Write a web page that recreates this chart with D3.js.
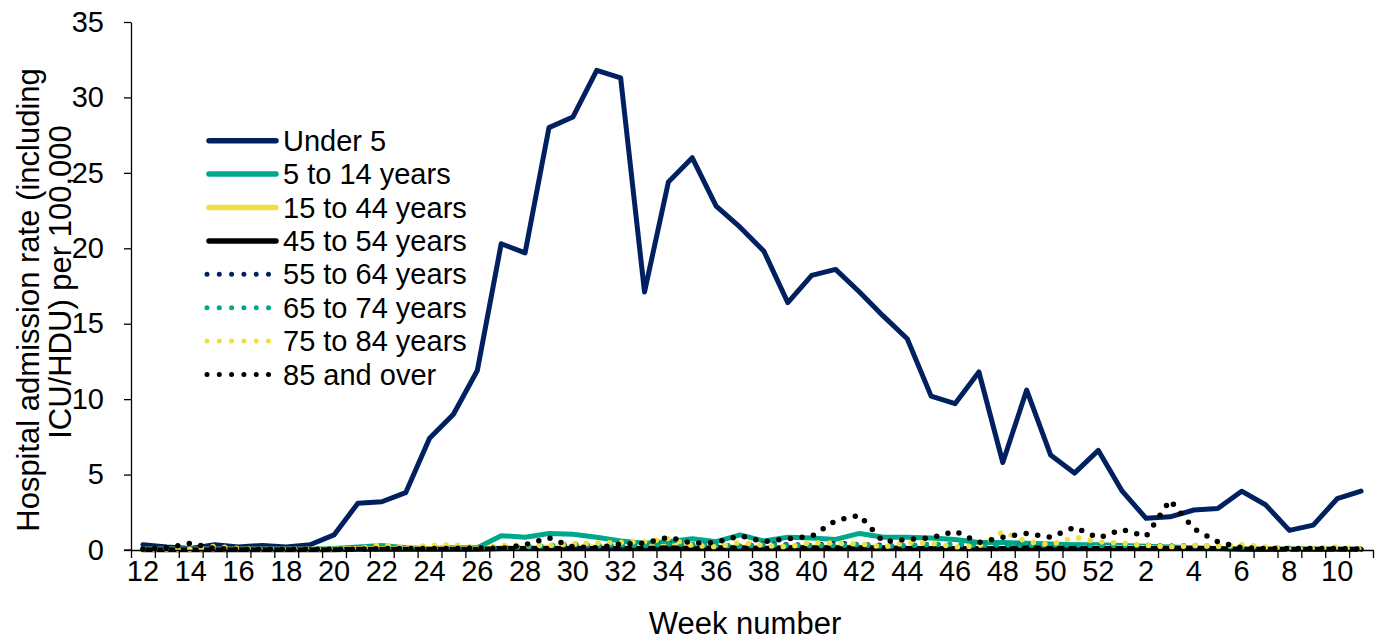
<!DOCTYPE html>
<html>
<head>
<meta charset="utf-8">
<script src="https://cdn.jsdelivr.net/npm/d3@7"></script>
<style>
  html, body { margin: 0; padding: 0; background: #fff; }
  svg { display: block; }
  text { font-family: "Liberation Sans", Arial, sans-serif; fill: #000; }
</style>
</head>
<body>
<svg id="chart" width="1378" height="642"></svg>
<script>
// ---- Data ----
const weeks = [12,13,14,15,16,17,18,19,20,21,22,23,24,25,26,27,28,29,30,31,32,33,34,35,36,37,38,39,40,41,42,43,44,45,46,47,48,49,50,51,52,1,2,3,4,5,6,7,8,9,10,11];

const seriesNames = ["Under 5","5 to 14 years","15 to 44 years","45 to 54 years","55 to 64 years","65 to 74 years","75 to 84 years","85 and over"];

const under5 = [0.35,0.2,0.1,0.35,0.2,0.3,0.2,0.35,1.0,3.1,3.2,3.8,7.4,9.0,11.9,20.3,19.7,28.0,28.7,31.8,31.3,17.1,24.4,26.0,22.8,21.4,19.8,16.4,18.2,18.6,17.1,15.5,14.0,10.2,9.7,11.8,5.8,10.6,6.3,5.1,6.6,3.9,2.1,2.2,2.65,2.75,3.9,3.0,1.3,1.65,3.4,3.9];
const age5to14 = [0.05,0.05,0.05,0.05,0.05,0.05,0.05,0.05,0.1,0.2,0.3,0.15,0.1,0.15,0.15,0.95,0.85,1.1,1.05,0.85,0.6,0.45,0.55,0.75,0.55,1.0,0.6,0.85,0.8,0.7,1.1,0.85,0.85,0.8,0.7,0.5,0.5,0.45,0.4,0.35,0.35,0.3,0.25,0.2,0.15,0.1,0.1,0.05,0.05,0.05,0.05,0.05];
const age15to44 = [0.05,0.05,0.05,0.05,0.05,0.05,0.05,0.05,0.05,0.1,0.1,0.1,0.1,0.1,0.1,0.15,0.15,0.2,0.2,0.2,0.2,0.2,0.25,0.2,0.2,0.2,0.15,0.2,0.2,0.2,0.2,0.15,0.15,0.1,0.1,0.05,0.1,0.1,0.1,0.1,0.15,0.15,0.15,0.1,0.1,0.1,0.1,0.1,0.05,0.05,0.05,0.05];
const age45to54 = [0.02,0.02,0.02,0.02,0.02,0.02,0.02,0.02,0.02,0.05,0.05,0.05,0.05,0.05,0.05,0.1,0.1,0.1,0.1,0.1,0.1,0.1,0.15,0.1,0.15,0.15,0.1,0.15,0.15,0.15,0.15,0.15,0.1,0.1,0.1,0.1,0.1,0.15,0.1,0.1,0.1,0.1,0.1,0.1,0.1,0.1,0.05,0.05,0.05,0.05,0.05,0.05];
const age55to64 = [0.05,0.05,0.05,0.05,0.05,0.05,0.05,0.05,0.05,0.05,0.1,0.1,0.1,0.1,0.1,0.15,0.2,0.25,0.3,0.2,0.25,0.3,0.45,0.35,0.3,0.25,0.4,0.35,0.3,0.45,0.35,0.3,0.25,0.4,0.3,0.35,0.3,0.35,0.3,0.25,0.3,0.35,0.3,0.25,0.2,0.2,0.15,0.1,0.1,0.05,0.05,0.05];
const age65to74 = [0.05,0.05,0.05,0.05,0.05,0.05,0.05,0.05,0.05,0.1,0.1,0.1,0.15,0.1,0.15,0.1,0.2,0.3,0.4,0.3,0.35,0.3,0.4,0.35,0.3,0.25,0.35,0.3,0.3,0.3,0.35,0.25,0.3,0.35,0.4,0.3,0.35,0.3,0.35,0.35,0.3,0.3,0.3,0.25,0.3,0.25,0.2,0.15,0.1,0.1,0.05,0.05];
const age75to84 = [0.02,0.05,0.05,0.25,0.1,0.05,0.05,0.05,0.05,0.1,0.35,0.15,0.3,0.35,0.15,0.3,0.35,0.3,0.4,0.45,0.5,0.55,0.75,0.3,0.2,0.5,0.3,0.2,0.5,0.45,0.4,0.2,0.5,0.45,0.2,0.25,1.2,0.55,0.35,0.85,0.55,0.45,0.3,0.2,0.3,0.25,0.35,0.2,0.05,0.1,0.2,0.05];
const age85plus = [0.05,0.15,0.45,0.1,0.05,0.05,0.05,0.05,0.05,0.05,0.1,0.1,0.1,0.1,0.15,0.1,0.35,0.8,0.2,0.15,0.4,0.45,0.85,0.45,0.5,0.95,0.55,0.75,0.9,1.95,2.3,0.55,0.7,0.8,1.25,0.5,0.85,1.1,0.85,1.5,0.8,1.35,0.9,3.3,1.4,0.55,0.15,0.1,0.1,0.1,0.1,0.05];

const yTicks = [0,5,10,15,20,25,30,35];

const seriesValues = [under5, age5to14, age15to44, age45to54, age55to64, age65to74, age75to84, age85plus];
const seriesColors = ["#002060","#00A88A","#EFDF3F","#000000","#002060","#00A88A","#EFDF3F","#000000"];
const seriesDotted = [false,false,false,false,true,true,true,true];

// ---- Layout ----
const plot = { left: 131, right: 1373, top: 22, bottom: 550 };
const FS = 29;
const FT = 31;

const svg = d3.select("#chart");

const idx = d3.range(weeks.length);
const x = d3.scaleBand().domain(idx).range([plot.left, plot.right]).paddingInner(0).paddingOuter(0);
const xb = d3.scaleLinear().domain([0, weeks.length]).range([plot.left, plot.right]);
const y = d3.scaleLinear().domain([0, 35]).range([plot.bottom, plot.top]);
const cx = i => x(i) + x.bandwidth() / 2;

// ---- Series lines ----
const line = d3.line().x((d, i) => cx(i)).y(d => y(d));
const gLines = svg.append("g");
seriesValues.forEach((vals, s) => {
  const p = gLines.append("path")
    .datum(vals)
    .attr("d", line)
    .attr("fill", "none")
    .attr("stroke", seriesColors[s])
    .attr("stroke-linejoin", "round")
    .attr("stroke-linecap", "round");
  if (seriesDotted[s]) {
    p.attr("stroke-width", 5.5).attr("stroke-dasharray", "0 11.7");
  } else {
    p.attr("stroke-width", 5);
  }
});

// ---- Axes ----
const yAxis = d3.axisLeft(y).tickValues(yTicks).tickSize(7).tickPadding(20).tickSizeOuter(0);
const gy = svg.append("g").attr("transform", `translate(${plot.left},0)`).call(yAxis);
gy.select(".domain").attr("stroke", "#000").attr("stroke-width", 1.3);
gy.selectAll(".tick line").attr("stroke", "#000").attr("stroke-width", 1.3);
gy.selectAll(".tick text").attr("font-size", FS).attr("font-family", "Liberation Sans, Arial, sans-serif");

// x tick marks between categories
const xTickAxis = d3.axisBottom(xb).tickValues(d3.range(0, weeks.length + 1)).tickFormat("").tickSize(8).tickSizeOuter(0);
const gxt = svg.append("g").attr("transform", `translate(0,${plot.bottom})`).call(xTickAxis);
gxt.select(".domain").attr("stroke", "#000").attr("stroke-width", 1.3);
gxt.selectAll(".tick line").attr("stroke", "#000").attr("stroke-width", 1.3);

// x labels (every other week)
const xLabAxis = d3.axisBottom(x).tickValues(idx.filter(i => i % 2 === 0)).tickFormat(i => weeks[i]).tickSize(0).tickPadding(10);
const gxl = svg.append("g").attr("transform", `translate(0,${plot.bottom})`).call(xLabAxis);
gxl.select(".domain").remove();
gxl.selectAll(".tick text").attr("font-size", FS).attr("font-family", "Liberation Sans, Arial, sans-serif");

// 0 tick crossing extension
svg.append("line").attr("x1", plot.left - 7).attr("x2", plot.left).attr("y1", y(0)).attr("y2", y(0)).attr("stroke", "#000").attr("stroke-width", 1.3);

// ---- Axis titles ----
svg.append("text")
  .attr("x", 745)
  .attr("y", 634)
  .attr("text-anchor", "middle")
  .attr("font-size", FT)
  .text("Week number");

svg.append("text")
  .attr("transform", `translate(39,300) rotate(-90)`)
  .attr("text-anchor", "middle")
  .attr("font-size", FT)
  .text("Hospital admission rate (including");
svg.append("text")
  .attr("transform", `translate(71,282) rotate(-90)`)
  .attr("text-anchor", "middle")
  .attr("font-size", FT)
  .text("ICU/HDU) per 100,000");

// ---- Legend ----
const leg = svg.append("g");
seriesNames.forEach((name, s) => {
  const yy = 140.7 + 33.4 * s;
  const l = leg.append("line")
    .attr("x1", 209).attr("x2", 276)
    .attr("y1", yy).attr("y2", yy)
    .attr("stroke", seriesColors[s])
    .attr("stroke-linecap", "round");
  if (seriesDotted[s]) {
    l.attr("stroke-width", 5).attr("stroke-dasharray", "0 12.3").attr("x1", 207).attr("x2", 271);
  } else {
    l.attr("stroke-width", 5.5);
  }
  leg.append("text")
    .attr("x", 283).attr("y", yy)
    .attr("dy", "0.35em")
    .attr("font-size", FS)
    .text(name);
});
</script>
</body>
</html>
